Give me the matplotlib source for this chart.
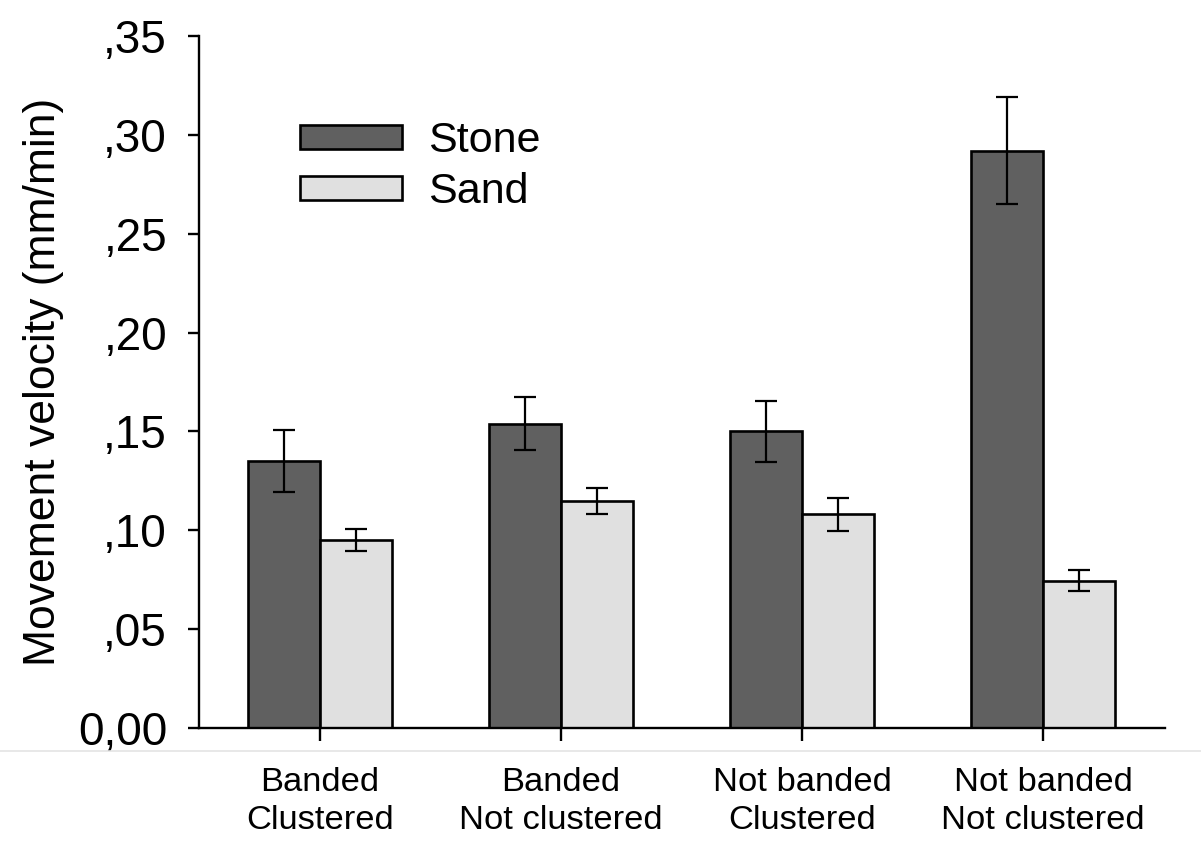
import matplotlib
matplotlib.use("Agg")
import matplotlib.pyplot as plt
import numpy as np
from matplotlib.lines import Line2D

plt.rcParams['font.family'] = ['Liberation Sans', 'DejaVu Sans']

# movement velocity per habitat type (mm/min)
groups = ['Banded\nClustered', 'Banded\nNot clustered',
          'Not banded\nClustered', 'Not banded\nNot clustered']
stone = [0.135, 0.154, 0.150, 0.292]
stone_err = [0.0157, 0.0134, 0.0155, 0.0271]
sand = [0.095, 0.115, 0.108, 0.0745]
sand_err = [0.0054, 0.0066, 0.0083, 0.0053]
yticks = [0.0, 0.05, 0.10, 0.15, 0.20, 0.25, 0.30, 0.35]
ytick_labels = ['0,00', ',05', ',10', ',15', ',20', ',25', ',30', ',35']

fig = plt.figure(figsize=(12.01, 8.41), dpi=100)
ax = fig.add_axes([199 / 1201, 113 / 841, 966 / 1201, 692 / 841])

x = np.arange(len(groups))
w = 0.3
err_kw = dict(ecolor='black', elinewidth=1.6, capthick=1.6)
ax.bar(x - w / 2, stone, w, yerr=stone_err, color='#606060', edgecolor='black',
       linewidth=1.9, capsize=8, error_kw=err_kw, label='Stone')
ax.bar(x + w / 2, sand, w, yerr=sand_err, color='#e0e0e0', edgecolor='black',
       linewidth=1.9, capsize=8, error_kw=err_kw, label='Sand')

ax.set_xlim(-0.502, 3.506)
ax.set_ylim(0, 0.35)
ax.set_yticks(yticks)
ax.set_yticklabels(ytick_labels, fontsize=33)
ax.set_xticks(x)
ax.set_xticklabels(groups, fontsize=24.8, linespacing=1.3)
ax.set_ylabel('Movement velocity (mm/min)', fontsize=32, labelpad=10)

for side in ['top', 'right']:
    ax.spines[side].set_visible(False)
for side in ['left', 'bottom']:
    ax.spines[side].set_linewidth(1.7)
ax.tick_params(axis='y', direction='out', length=8, width=1.7, pad=15)
ax.tick_params(axis='x', direction='out', length=9, width=1.7, pad=19)

ax.legend(loc='upper left', bbox_to_anchor=(0.105, 0.877), frameon=False,
          fontsize=31, handlelength=2.37, handleheight=0.48,
          handletextpad=0.6, labelspacing=0.25, borderpad=0, borderaxespad=0)

# thin separator line below the axis
fig.add_artist(Line2D([0, 1], [1 - 751 / 841] * 2, color='#e4e4e4', linewidth=1.2))

fig.savefig('out.png', dpi=100)
